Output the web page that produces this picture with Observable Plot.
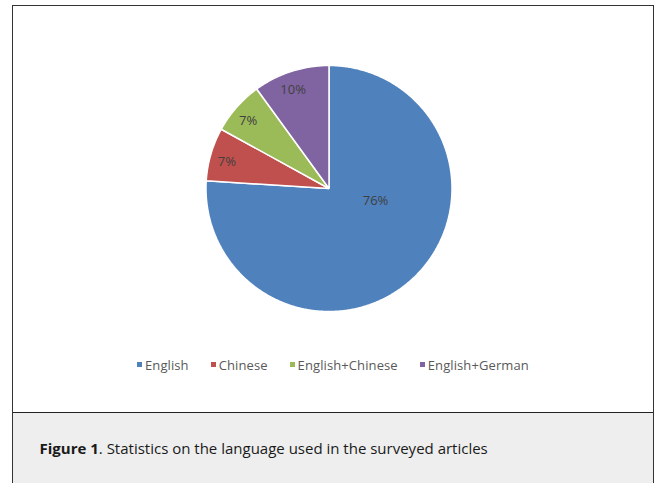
<!DOCTYPE html>
<html>
<head>
<meta charset="utf-8">
<script src="https://cdn.jsdelivr.net/npm/d3@7"></script>
<script src="https://cdn.jsdelivr.net/npm/@observablehq/plot@0.6"></script>
<style>
  html, body { margin: 0; padding: 0; background: #fff; }
  #frame { position: absolute; left: 12px; top: 5px; width: 640px; border: 1.5px solid #333; border-bottom: none; }
  #chart { position: relative; height: 406px; background: #fff; }
  #chart > svg { position: absolute; left: 0; top: 0; }
  #legend { position: absolute; left: 124px; top: 342px; }
  .lg-swatch { margin-right: 22px !important; letter-spacing: 0.1px; }
  .lg-swatch > svg { margin-right: 3px !important; }
  #cap { border-top: 1.5px solid #222; background: #eeeeee; height: 120px; }
  #cap p { margin: 0; padding: 25px 0 0 26.5px; font-family: "Open Sans", sans-serif; font-size: 15px; color: #1a1a1a; }
</style>
</head>
<body>
<div id="frame">
  <div id="chart"><div id="legend"></div></div>
  <div id="cap"><p><b>Figure 1</b>. Statistics on the language used in the surveyed articles</p></div>
</div>
<script>
const languages = ["English", "Chinese", "English+Chinese", "English+German"];
const shares = [76, 7, 7, 10];
const sliceLabels = ["76%", "7%", "7%", "10%"];
const colors = ["#4F81BD", "#C0504D", "#9BBB59", "#8064A2"];

const rows = languages.map((name, i) => ({name, value: shares[i], label: sliceLabels[i]}));
const arcs = d3.pie().sort(null).value(d => d.value)(rows);

const poly = [];
const labelPts = [];
arcs.forEach(a => {
  const name = a.data.name;
  const n = Math.max(2, Math.ceil((a.endAngle - a.startAngle) / (Math.PI / 360)));
  poly.push({name, x: 0, y: 0});
  for (let i = 0; i <= n; i++) {
    const t = a.startAngle + (a.endAngle - a.startAngle) * i / n;
    poly.push({name, x: Math.sin(t), y: Math.cos(t)});
  }
  const big = a.data.value > 50;
  const t = a.startAngle + (a.endAngle - a.startAngle) * (big ? 0.38 : 0.45);
  const r = big ? 0.39 : 0.86;
  labelPts.push({name, label: a.data.label, x: r * Math.sin(t), y: r * Math.cos(t)});
});

const plot = Plot.plot({
  width: 640,
  height: 340,
  margin: 0,
  x: {domain: [-1, 1], range: [192.5, 438.5], axis: null},
  y: {domain: [-1, 1], range: [305, 59], axis: null},
  color: {domain: languages, range: colors},
  marks: [
    Plot.line(poly, {x: "x", y: "y", z: "name", fill: "name", stroke: "white", strokeWidth: 1.5, strokeLinejoin: "miter", curve: "linear-closed"}),
    Plot.text(labelPts, {x: "x", y: "y", text: "label", fill: "#404040", fontSize: 13, fontFamily: "Open Sans", dy: 1})
  ]
});
document.getElementById("chart").prepend(plot);

const legend = Plot.legend({
  color: {type: "ordinal", domain: languages, range: colors},
  swatchSize: 5,
  className: "lg",
  style: {fontFamily: "Open Sans", fontSize: "13px", color: "#595959"}
});
document.getElementById("legend").appendChild(legend);
</script>
</body>
</html>
